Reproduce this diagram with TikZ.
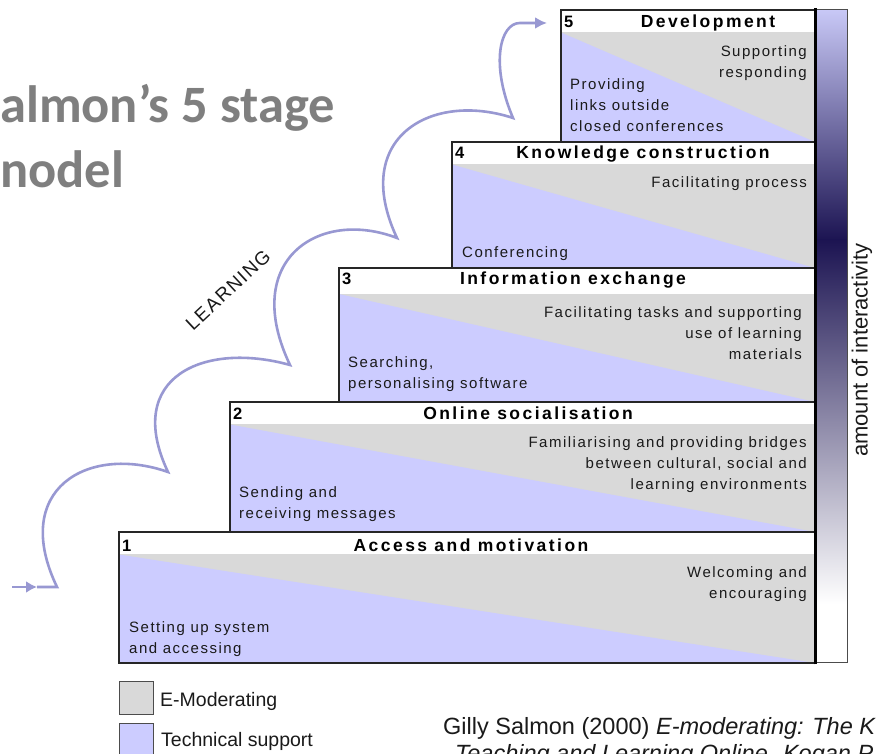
\documentclass[tikz,border=0pt]{standalone}
\usepackage{fontspec}
\setmainfont{Liberation Sans}
\newfontfamily\titlefont{Carlito}
\newfontfamily\headfont[LetterSpace=14]{Liberation Sans}
\newfontfamily\stagefont[LetterSpace=10]{Liberation Sans}
\newfontfamily\learnfont[LetterSpace=8]{Liberation Sans}
\usetikzlibrary{arrows.meta}
\definecolor{emod}{HTML}{D9D9D9}
\definecolor{tech}{HTML}{CCCCFF}
\definecolor{learncol}{RGB}{152,152,210}
\definecolor{titlegray}{HTML}{7F7F7F}
\definecolor{barlight}{RGB}{200,200,246}
\definecolor{bardark}{RGB}{28,20,82}
\definecolor{ink}{HTML}{1A1A1A}

\begin{document}
\begin{tikzpicture}[x=1pt,y=1pt,
  frame/.style={draw=black!85,line width=1.6pt},
  stagenum/.style={anchor=base west,inner sep=0pt,font=\fontsize{16.5}{19}\selectfont\bfseries},
  stagehead/.style={anchor=base,inner sep=0pt,font=\headfont\fontsize{17.5}{20}\selectfont\bfseries},
  moder/.style={anchor=north east,align=right,inner sep=0pt,text=ink,font=\stagefont\fontsize{15}{21.2}\selectfont},
  support/.style={anchor=north west,align=left,inner sep=0pt,text=ink,font=\stagefont\fontsize{15}{21.2}\selectfont},
  learn/.style={draw=learncol,line width=2.6pt},
  legendbox/.style={draw=black!70,line width=1pt},
  legendtext/.style={anchor=base west,inner sep=0pt,text=ink,font=\fontsize{19.5}{23}\selectfont},
  cite/.style={anchor=base west,inner sep=0pt,text=ink,font=\fontsize{23.5}{27}\selectfont},
  titletext/.style={anchor=base west,inner sep=0pt,text=titlegray,font=\titlefont\bfseries\fontsize{52.5}{60}\selectfont}]
\useasboundingbox (0,0) rectangle (879,754);
\clip (0,0) rectangle (879,754);
\fill[white] (0,0) rectangle (879,754);

% slide title
\node[titletext] (title1) at (0,631) {almon’s 5 stage};
\node[titletext] (title2) at (0,566) {nodel};

% stage 5
\fill[emod] (561,721.5) rectangle (815,612);
\fill[tech] (561,721.5) -- (815,612) -- (561,612) -- cycle;
\draw[frame] (561,744) rectangle (815,612);
\node[stagenum] (n5) at (564,726) {5};
\node[stagehead] (h5) at (708,726) {Development};
\node[moder] (m5) at (807,708.9) {Supporting\\responding};
\node[support] (s5) at (570,675.9) {Providing\\links outside\\closed conferences};

% stage 4
\fill[emod] (452,589.5) rectangle (815,486);
\fill[tech] (452,589.5) -- (815,486) -- (452,486) -- cycle;
\draw[frame] (452,612) rectangle (815,486);
\node[stagenum] (n4) at (455,595) {4};
\node[stagehead] (h4) at (643,595) {Knowledge construction};
\node[moder] (m4) at (807,577.9) {Facilitating process};
\node[support] (s4) at (462,507.9) {Conferencing};

% stage 3
\fill[emod] (339,460) rectangle (815,352);
\fill[tech] (339,460) -- (815,352) -- (339,352) -- cycle;
\draw[frame] (339,486) rectangle (815,352);
\node[stagenum] (n3) at (342,469) {3};
\node[stagehead] (h3) at (573,469) {Information exchange};
\node[moder] (m3) at (802,447.9) {Facilitating tasks and supporting\\use of learning\\materials};
\node[support] (s3) at (348,397.9) {Searching,\\personalising software};

% stage 2
\fill[emod] (230,329.5) rectangle (815,222);
\fill[tech] (230,329.5) -- (815,222) -- (230,222) -- cycle;
\draw[frame] (230,352) rectangle (815,222);
\node[stagenum] (n2) at (233,334) {2};
\node[stagehead] (h2) at (528,334) {Online socialisation};
\node[moder] (m2) at (807,317.9) {Familiarising and providing bridges\\between cultural, social and\\learning environments};
\node[support] (s2) at (239,267.9) {Sending and\\receiving messages};

% stage 1
\fill[emod] (119,199.5) rectangle (815,91);
\fill[tech] (119,199.5) -- (815,91) -- (119,91) -- cycle;
\draw[frame] (119,222) rectangle (815,91);
\node[stagenum] (n1) at (122,202) {1};
\node[stagehead] (h1) at (471,202) {Access and motivation};
\node[moder] (m1) at (807,187.9) {Welcoming and\\encouraging};
\node[support] (s1) at (129,132.9) {Setting up system\\and accessing};

% interactivity bar
\shade[top color=barlight,bottom color=bardark] (815,514) rectangle (847,744);
\shade[top color=bardark,bottom color=white] (815,150) rectangle (847,514);
\fill[white] (815,91) rectangle (847,150);
\draw[black!70,line width=1pt] (815,91) rectangle (847,744);
\draw[black,line width=3pt] (815,89.5) -- (815,745.5);
\node[rotate=90,inner sep=0pt,text=ink,font=\fontsize{22}{26}\selectfont] (interact) at (862,404) {amount of interactivity};

% learning path
\coordinate (lstart) at (12,167);
\coordinate (lmid) at (37,167);
\coordinate (cusp1) at (57,167);
\coordinate (cusp2) at (168,282);
\coordinate (cusp3) at (290,389);
\coordinate (cusp4) at (397,516);
\coordinate (cusp5) at (513,636);
\coordinate (ltop) at (520,731);
\coordinate (lend) at (547,731);
\draw[learn,-{Latex[length=11pt,width=12pt]}] (lstart) -- (lmid);
\draw[learn,-{Latex[length=12pt,width=12pt]}] (lmid) -- (cusp1)
  .. controls +(-47,98) and +(-80,28) .. (cusp2)
  .. controls +(-45,95) and +(-86,24) .. (cusp3)
  .. controls +(-50,105) and +(-78,30) .. (cusp4)
  .. controls +(-47,100) and +(-82,27) .. (cusp5)
  .. controls +(-23,54) and +(-20,0) .. (ltop) -- (lend);
\node[rotate=43,inner sep=0pt,text=ink,font=\learnfont\fontsize{19}{22}\selectfont] (learning) at (228,464) {LEARNING};

% key
\draw[legendbox,fill=emod] (119,39) rectangle (153,72);
\draw[legendbox,fill=tech] (119,-10) rectangle (153,30);
\node[legendtext] (keym) at (160,47) {E-Moderating};
\node[legendtext] (keyt) at (161,7) {Technical support};

% reference
\node[cite] (cite1) at (443,19) {Gilly Salmon (2000) \textit{E-moderating: The K}};
\node[cite] (cite2) at (455,-8) {\textit{Teaching and Learning Online. Kogan P}};
\end{tikzpicture}
\end{document}
